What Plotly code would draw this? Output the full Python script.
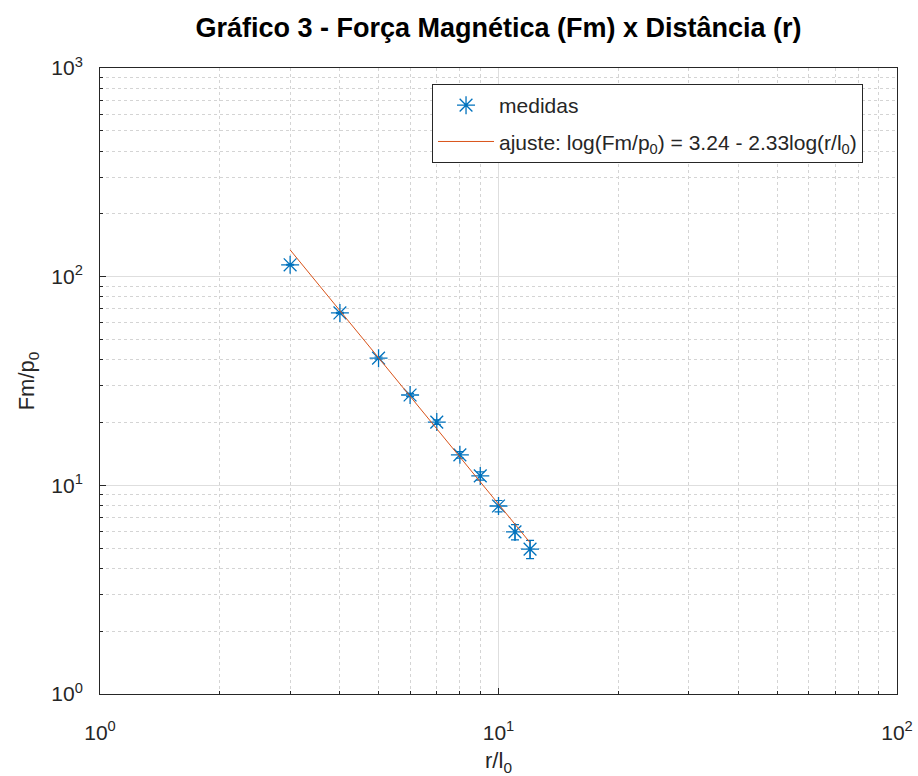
import plotly.graph_objects as go
import numpy as np

r = [3, 4, 5, 6, 7, 8, 9, 10, 11, 12]
fm = [114, 67, 40.7, 27.1, 20.1, 14.0, 11.1, 7.96, 5.98, 4.95]
fm_err = [0.5] * 10
fit_a = 3.24
fit_b = -2.33
fit_r = [3, 12]
fit_y = [10 ** (fit_a + fit_b * np.log10(v)) for v in fit_r]

blue = "#0072BD"
orange = "#D95319"
font = "Liberation Sans, Arial, sans-serif"
ink = "#262626"

major = [1, 10, 100, 1000]
major_txt = ["10<sup>0</sup>", "10<sup>1</sup>", "10<sup>2</sup>", "10<sup>3</sup>"]
minor_x = [m * d for d in (1, 10) for m in range(2, 10)]
minor_y = [m * d for d in (1, 10, 100) for m in range(2, 10)]

fig = go.Figure()
fig.add_trace(go.Scatter(
    x=r, y=fm, mode="markers", name="medidas", legendgroup="a",
    marker=dict(symbol="asterisk-open", size=15, color=blue, line=dict(color=blue, width=1.3)),
    error_y=dict(type="data", array=fm_err, color=blue, thickness=1.2, width=4),
))
fig.add_trace(go.Scatter(
    x=fit_r, y=fit_y, mode="lines", legendgroup="b",
    name="ajuste: log(Fm/p<sub>0</sub>) = 3.24 - 2.33log(r/l<sub>0</sub>)",
    line=dict(color=orange, width=1),
))

def axis(minor_vals):
    return dict(
        type="log", showline=True, linecolor=ink, linewidth=1, mirror=True,
        ticks="inside", ticklen=6, tickcolor=ink,
        showgrid=True, gridcolor="#dedede", gridwidth=1,
        minor=dict(tickmode="array", tickvals=minor_vals, showgrid=True,
                   gridcolor="#d4d4d4", griddash="dot", gridwidth=1,
                   ticks="inside", ticklen=3, tickcolor=ink),
        tickfont=dict(size=21, color=ink, family=font),
        zeroline=False, automargin=False,
    )

fig.update_layout(
    width=918, height=776,
    margin=dict(l=100, r=21, t=68, b=82),
    paper_bgcolor="white", plot_bgcolor="white",
    title=dict(text="<b>Gráfico 3 - Força Magnética (Fm) x Distância (r)</b>",
               xref="paper", x=0.5, xanchor="center", y=0.965, yanchor="middle",
               font=dict(size=27, color="black", family=font)),
    xaxis=dict(axis(minor_x), range=[0, 2], tickvals=major[:3], ticktext=major_txt[:3],
               ticklabelstandoff=20,
               title=dict(text="r/l<sub>0</sub>", font=dict(size=22, color=ink, family=font), standoff=10)),
    yaxis=dict(axis(minor_y), range=[0, 3], tickvals=major, ticktext=major_txt,
               ticklabelstandoff=12,
               title=dict(text="Fm/p<sub>0</sub>", font=dict(size=22, color=ink, family=font), standoff=10)),
    legend=dict(x=0.4166, y=0.9744, xanchor="left", yanchor="top",
                bgcolor="white", bordercolor=ink, borderwidth=1,
                font=dict(size=21, color=ink, family=font),
                traceorder="grouped", tracegroupgap=6, itemwidth=56),
    showlegend=True,
)

fig.write_html("out.html")
